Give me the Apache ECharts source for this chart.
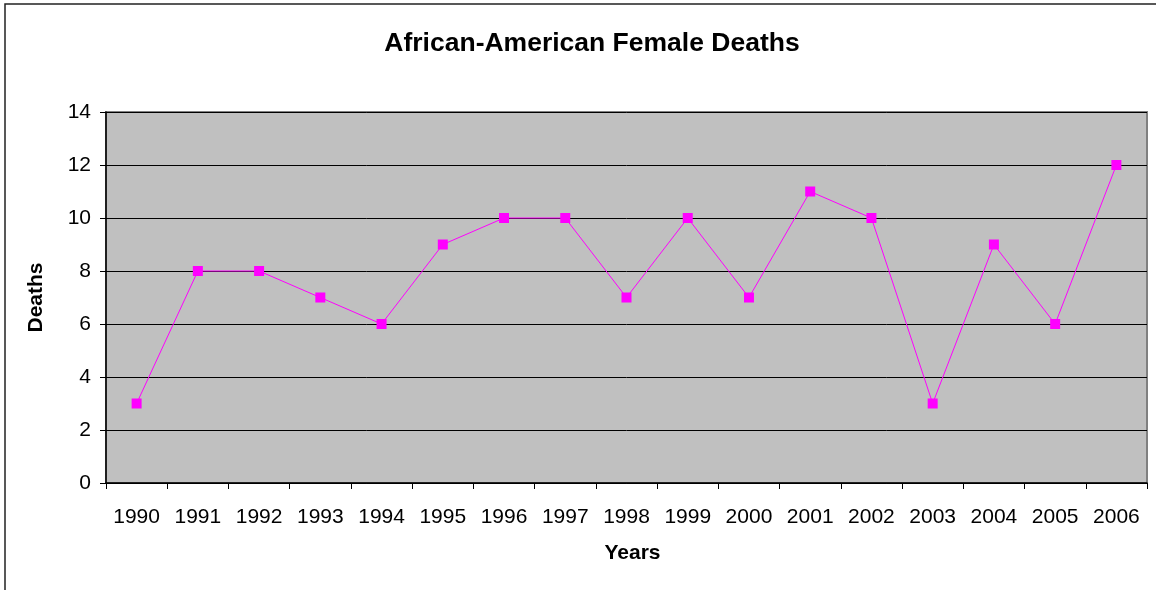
<!DOCTYPE html>
<html>
<head>
<meta charset="utf-8">
<script src="https://cdn.jsdelivr.net/npm/echarts@6/dist/echarts.min.js"></script>
<style>
  html, body { margin: 0; padding: 0; background: #fff; }
  #chart { width: 1156px; height: 590px; }
</style>
</head>
<body>
<div id="chart"></div>
<script>
// values
const years = ['1990', '1991', '1992', '1993', '1994', '1995', '1996', '1997', '1998',
  '1999', '2000', '2001', '2002', '2003', '2004', '2005', '2006']
const deaths = [3, 8, 8, 7, 6, 9, 10, 10, 7, 10, 7, 11, 10, 3, 9, 6, 12]

const chart = echarts.init(document.getElementById('chart'))
const font = 'Liberation Sans, Arial, sans-serif'

chart.setOption({
  animation: false,
  textStyle: { fontFamily: font },
  graphic: [{
    type: 'rect',
    shape: { x: 5, y: 4, width: 1170, height: 620 },
    style: { fill: 'none', stroke: '#222', lineWidth: 1.5 },
    silent: true
  }],
  title: {
    text: 'African-American Female Deaths',
    left: 587,
    textAlign: 'center',
    top: 25,
    textStyle: { fontFamily: font, fontSize: 26.5, fontWeight: 'bold', color: '#000' }
  },
  grid: {
    left: 106,
    right: 9,
    top: 112,
    bottom: 107,
    show: true,
    backgroundColor: '#C0C0C0',
    borderColor: '#808080',
    borderWidth: 2
  },
  xAxis: {
    type: 'category',
    data: years,
    boundaryGap: true,
    name: 'Years',
    nameLocation: 'middle',
    nameGap: 60,
    nameTextStyle: { fontFamily: font, fontSize: 21, fontWeight: 'bold', color: '#000', padding: [0, 0, 0, 12] },
    axisLine: { lineStyle: { color: '#000', width: 1.5 } },
    axisTick: { show: true, length: 6, lineStyle: { color: '#000' } },
    axisLabel: { color: '#000', fontSize: 21, margin: 24 }
  },
  yAxis: {
    type: 'value',
    min: 0,
    max: 14,
    interval: 2,
    name: 'Deaths',
    nameLocation: 'middle',
    nameGap: 59,
    nameRotate: 90,
    nameTextStyle: { fontFamily: font, fontSize: 21, fontWeight: 'bold', color: '#000' },
    axisLine: { show: true, lineStyle: { color: '#000', width: 1.5 } },
    axisTick: { show: true, length: 6, lineStyle: { color: '#000' } },
    axisLabel: { color: '#000', fontSize: 21, margin: 15 },
    splitLine: { show: true, lineStyle: { color: '#000', width: 1 } }
  },
  series: [{
    name: 'Deaths',
    type: 'line',
    data: deaths,
    symbol: 'rect',
    symbolSize: 10,
    lineStyle: { color: '#FF00FF', width: 1 },
    itemStyle: { color: '#FF00FF' }
  }]
})
</script>
</body>
</html>
